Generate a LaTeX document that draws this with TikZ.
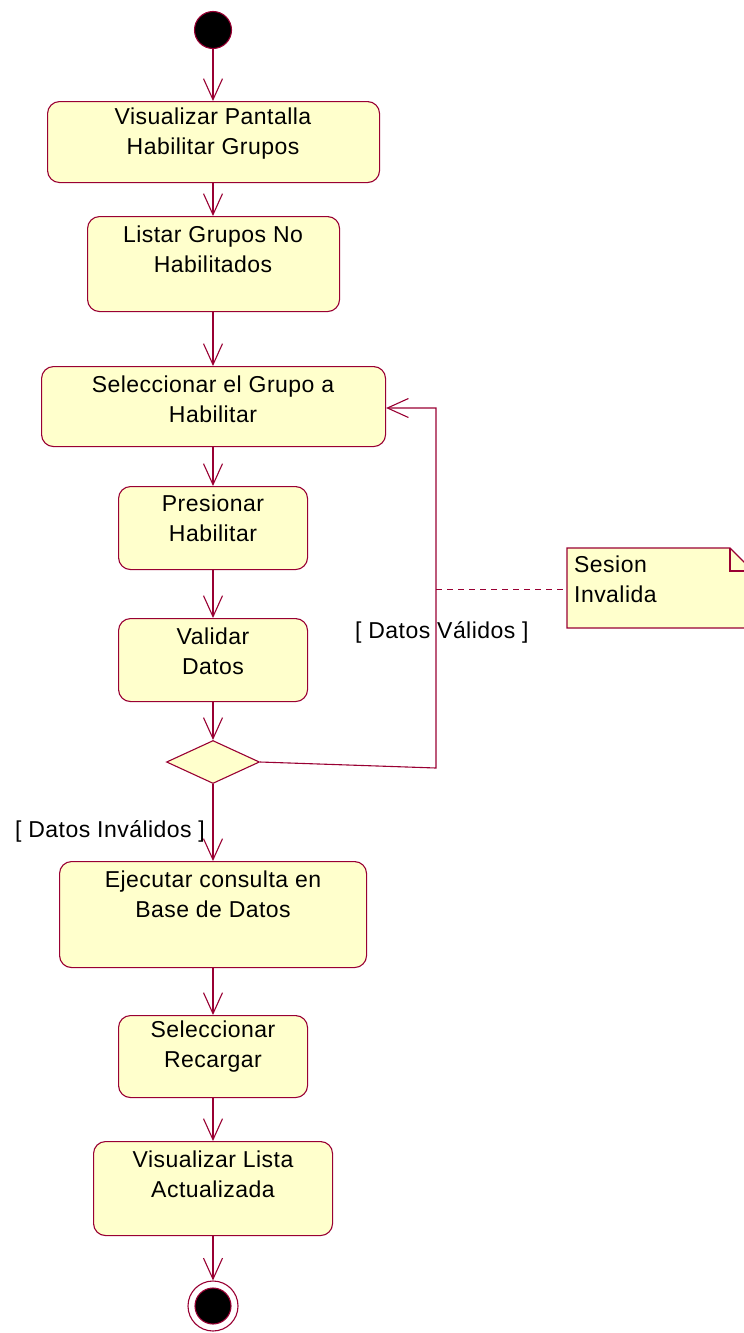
\documentclass[tikz,border=0pt]{standalone}
\usepackage{fontspec}
\setmainfont{Liberation Sans}[LetterSpace=2]
\usetikzlibrary{arrows.meta,shapes.geometric}
\definecolor{umlred}{RGB}{153,0,51}
\definecolor{umlfill}{RGB}{255,255,204}
\begin{document}
\begin{tikzpicture}[x=1pt,y=-1pt,
  actbox/.style={draw=umlred,fill=umlfill,line width=1.1pt,rounded corners=12pt,anchor=north west,inner sep=0pt},
  txt/.style={font=\fontsize{23}{30}\selectfont,align=center,inner sep=0pt},
  flow/.style={draw=umlred,line width=1.1pt,-{Straight Barb[length=21pt,width=19pt,line width=1.1pt]}},
  plain/.style={draw=umlred,line width=1.1pt}]
\useasboundingbox (0,0) rectangle (744,1333);
% start
\node[circle,draw=umlred,fill=black,minimum size=37pt,inner sep=0pt,line width=1.1pt] (start) at (213,30) {};
% boxes
\node[actbox,minimum width=332pt,minimum height=81pt] (b1) at (47,101) {};
\node[txt] (t1) at (213,134) {Visualizar Pantalla\\Habilitar Grupos};
\node[actbox,minimum width=252pt,minimum height=95pt] (b2) at (87,216) {};
\node[txt] (t2) at (213,249) {Listar Grupos No\\Habilitados};
\node[actbox,minimum width=344pt,minimum height=80pt] (b3) at (41,366) {};
\node[txt] (t3) at (213,399) {Seleccionar el Grupo a\\Habilitar};
\node[actbox,minimum width=189pt,minimum height=83pt] (b4) at (118,486) {};
\node[txt] (t4) at (213,518) {Presionar\\Habilitar};
\node[actbox,minimum width=189pt,minimum height=83pt] (b5) at (118,618) {};
\node[txt] (t5) at (213,651) {Validar\\Datos};
\node[diamond,draw=umlred,fill=umlfill,line width=1.1pt,minimum width=93pt,minimum height=43pt,inner sep=0pt,aspect=2.16] (dec) at (213,762) {};
\node[actbox,minimum width=307pt,minimum height=106pt] (b6) at (59,861) {};
\node[txt] (t6) at (213,894) {Ejecutar consulta en\\Base de Datos};
\node[actbox,minimum width=189pt,minimum height=82pt] (b7) at (118,1015) {};
\node[txt] (t7) at (213,1047) {Seleccionar\\Recargar};
\node[actbox,minimum width=239pt,minimum height=94pt] (b8) at (93,1141) {};
\node[txt] (t8) at (213,1174) {Visualizar Lista\\Actualizada};
% end
\node[circle,draw=umlred,fill=white,minimum size=50pt,inner sep=0pt,line width=1.1pt] (endo) at (213,1306) {};
\node[circle,draw=umlred,fill=black,minimum size=36pt,inner sep=0pt,line width=1.1pt] (endi) at (213,1306) {};
% flows
\draw[flow] (start) -- (b1.north -| start);
\draw[flow] (b1.south -| start) -- (b2.north -| start);
\draw[flow] (b2.south -| start) -- (b3.north -| start);
\draw[flow] (b3.south -| start) -- (b4.north -| start);
\draw[flow] (b4.south -| start) -- (b5.north -| start);
\draw[flow] (b5.south -| start) -- (dec.north);
\draw[flow] (dec.south) -- (b6.north -| start);
\draw[flow] (b6.south -| start) -- (b7.north -| start);
\draw[flow] (b7.south -| start) -- (b8.north -| start);
\draw[flow] (b8.south -| start) -- (endo.north);
% loop
\coordinate (c1) at (436,768);
\coordinate (c2) at (436,408);
\draw[flow] (dec.east) -- (c1) -- (c2) -- (c2 -| b3.east);
% labels
\node[txt,anchor=west] (lv) at (355,632) {[ Datos Válidos ]};
\node[txt,anchor=west] (li) at (15,831) {[ Datos Inválidos ]};
% note
\coordinate (nw) at (567,548);
\draw[plain,fill=umlfill] (567,548) -- (730,548) -- (752,570) -- (752,628) -- (567,628) -- cycle;
\draw[plain] (730,548) -- (730,571) -- (752,571);
\node[txt,align=left,anchor=west] (note) at (574,579) {Sesion\\Invalida};
\coordinate (c3) at (436,589);
\draw[plain,dash pattern=on 6pt off 5pt,line width=0.7pt] (c3) -- (c3 -| nw);
\end{tikzpicture}
\end{document}
